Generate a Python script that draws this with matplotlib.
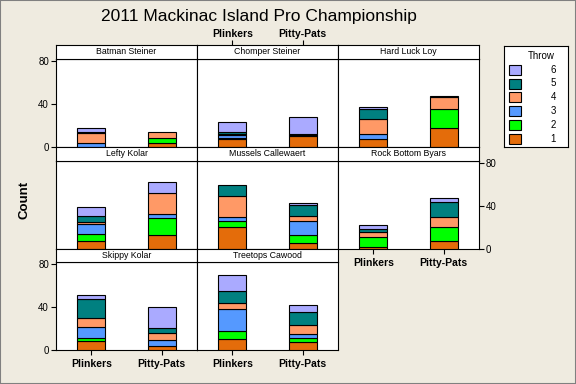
import matplotlib
matplotlib.use("Agg")
import matplotlib.pyplot as plt
from matplotlib.patches import Rectangle
import numpy as np

plt.rcParams['font.family'] = ['Liberation Sans', 'DejaVu Sans']

title = "2011 Mackinac Island Pro Championship"
players = ["Batman Steiner", "Chomper Steiner", "Hard Luck Loy",
           "Lefty Kolar", "Mussels Callewaert", "Rock Bottom Byars",
           "Skippy Kolar", "Treetops Cawood"]
categories = ["Plinkers", "Pitty-Pats"]
throws = ["1", "2", "3", "4", "5", "6"]
colors = ["#E46C0A", "#00FF00", "#5599FF", "#FF9966", "#008080", "#AAAAFF"]

# counts per throw (1..6) for each player, Plinkers
plinkers_t1 = [0, 7, 7, 7, 20, 2, 8, 10]
plinkers_t2 = [0, 1, 0, 7, 6, 9, 3, 8]
plinkers_t3 = [4, 3, 5, 9, 4, 0, 10, 20]
plinkers_t4 = [9, 1, 14, 2, 19, 5, 9, 6]
plinkers_t5 = [1, 2, 9, 6, 10, 3, 17, 11]
plinkers_t6 = [4, 9, 2, 8, 0, 3, 4, 15]
# counts per throw (1..6) for each player, Pitty-Pats
pitty_t1 = [4, 10, 18, 13, 6, 7, 4, 7]
pitty_t2 = [4, 0, 17, 16, 7, 13, 0, 4]
pitty_t3 = [0, 1, 0, 3, 13, 0, 5, 4]
pitty_t4 = [6, 0, 11, 20, 5, 10, 7, 8]
pitty_t5 = [0, 1, 1, 0, 10, 14, 4, 12]
pitty_t6 = [0, 16, 0, 10, 2, 3, 20, 7]

plinkers = np.array([plinkers_t1, plinkers_t2, plinkers_t3,
                     plinkers_t4, plinkers_t5, plinkers_t6])
pitty = np.array([pitty_t1, pitty_t2, pitty_t3, pitty_t4, pitty_t5, pitty_t6])

W, H = 576, 384
BG = "#EFEBE0"
fig = plt.figure(figsize=(W / 100, H / 100), dpi=100, facecolor=BG)

def fr(x0, y0, x1, y1):
    # pixel box (top-left origin) -> figure fraction rect
    return [x0 / W, 1 - y1 / H, (x1 - x0) / W, (y1 - y0) / H]

col_edges = [56, 197, 338, 479]
row_T = [45, 147, 249]
row_S = [59, 161, 262]
row_B = [147, 249, 350]
YMAX = 81.6
lw = 0.8

for i, name in enumerate(players):
    r, c = divmod(i, 3)
    x0, x1 = col_edges[c], col_edges[c + 1]
    ax = fig.add_axes(fr(x0, row_S[r], x1, row_B[r]))
    ax.set_facecolor("white")
    ax.set_xlim(-0.5, 1.5)
    ax.set_ylim(0, YMAX)
    xs = np.arange(len(categories))
    for k in range(len(categories)):
        data = plinkers[:, i] if k == 0 else pitty[:, i]
        bottom = 0
        for t in range(len(throws)):
            v = data[t]
            if v > 0:
                ax.bar(xs[k], v, width=0.4, bottom=bottom, color=colors[t],
                       edgecolor="black", linewidth=lw, zorder=3)
            bottom += v
    for s in ax.spines.values():
        s.set_linewidth(lw)
    ax.tick_params(axis="both", length=3.5, width=lw, direction="out",
                   labelsize=7, pad=1.5)
    ax.set_xticks(xs)
    ax.set_yticks([0, 40, 80])
    # x tick labels
    bottom_labels = (r == 2) or (r == 1 and c == 2)
    if bottom_labels:
        ax.set_xticklabels(categories, fontweight="bold", fontsize=7.5)
        ax.tick_params(axis="x", pad=3)
    else:
        ax.set_xticklabels([])
        ax.tick_params(axis="x", bottom=False)
    # y tick labels
    if c == 0 and r in (0, 2):
        ax.tick_params(axis="y", left=True, labelleft=True)
    elif c == 2 and r == 1:
        ax.yaxis.tick_right()
        ax.tick_params(axis="y", right=True, labelright=True, left=False)
    else:
        ax.tick_params(axis="y", left=False, labelleft=False)

    # strip
    sa = fig.add_axes(fr(x0, row_T[r], x1, row_S[r]))
    sa.set_facecolor("white")
    sa.set_xlim(-0.5, 1.5)
    sa.set_ylim(0, 1)
    sa.set_yticks([])
    for s in sa.spines.values():
        s.set_linewidth(lw)
    sa.text(0.5, 0.5, name, transform=sa.transAxes, ha="center",
            va="center", fontsize=6.3)
    if r == 0 and c == 1:
        sa.xaxis.tick_top()
        sa.set_xticks(xs)
        sa.set_xticklabels(categories, fontweight="bold", fontsize=7.5)
        sa.tick_params(axis="x", length=3.5, width=lw, direction="out", pad=0.5)
    else:
        sa.set_xticks([])

fig.text(259 / W, 1 - 16 / H, title, ha="center", va="center", fontsize=12.5)
fig.text(25 / W, 1 - 200 / H, "Count", rotation=90, ha="center",
         va="center", fontsize=9.5, fontweight="bold")

# legend
lg = fig.add_axes(fr(504, 46, 568, 147))
lg.set_xlim(504, 568)
lg.set_ylim(147, 46)
lg.set_xticks([])
lg.set_yticks([])
lg.set_facecolor("white")
for s in lg.spines.values():
    s.set_linewidth(lw)
lg.text(555, 56, "Throw", ha="right", va="center", fontsize=7)
ycent = [139.3, 125.3, 111.0, 97.3, 83.5, 70.0]
for t in range(len(throws)):
    yc = ycent[t]
    lg.add_patch(Rectangle((509, yc - 5), 11.5, 10, facecolor=colors[t],
                           edgecolor="black", linewidth=lw))
    lg.text(556, yc, throws[t], ha="right", va="center", fontsize=7)

# outer frame
fig.patches.append(Rectangle((0, 0), 1, 1, transform=fig.transFigure,
                             fill=False, edgecolor="#808080", linewidth=1.5))

fig.savefig("out.png", dpi=100, facecolor=BG)
